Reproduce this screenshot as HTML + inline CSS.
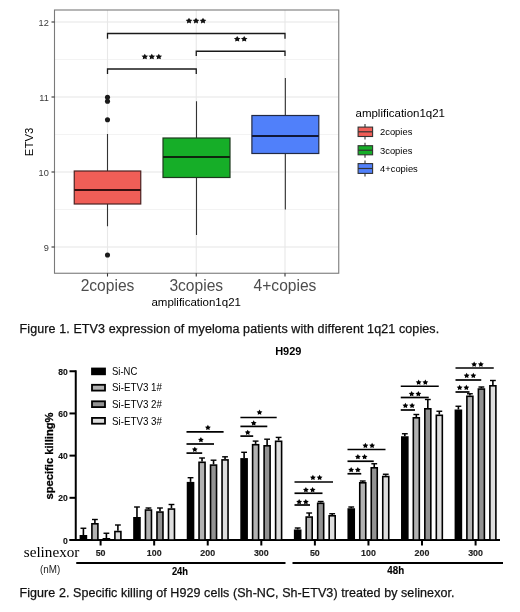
<!DOCTYPE html>
<html><head><meta charset="utf-8"><style>
html,body{margin:0;padding:0;background:#fff;}
svg{display:block;font-family:"Liberation Sans",sans-serif;will-change:transform;}
</style></head><body>
<svg width="520" height="612" viewBox="0 0 520 612">
<rect x="54.5" y="10" width="284.25" height="263.25" fill="#fff"/>
<line x1="54.5" x2="338.75" y1="59.5" y2="59.5" stroke="#f0f0f0" stroke-width="0.8"/>
<line x1="54.5" x2="338.75" y1="134.5" y2="134.5" stroke="#f0f0f0" stroke-width="0.8"/>
<line x1="54.5" x2="338.75" y1="209.5" y2="209.5" stroke="#f0f0f0" stroke-width="0.8"/>
<line x1="54.5" x2="338.75" y1="22" y2="22" stroke="#e6e6e6" stroke-width="1.1"/>
<line x1="54.5" x2="338.75" y1="97" y2="97" stroke="#e6e6e6" stroke-width="1.1"/>
<line x1="54.5" x2="338.75" y1="172" y2="172" stroke="#e6e6e6" stroke-width="1.1"/>
<line x1="54.5" x2="338.75" y1="247" y2="247" stroke="#e6e6e6" stroke-width="1.1"/>
<line x1="107.5" x2="107.5" y1="10" y2="273.25" stroke="#e8e8e8" stroke-width="1.1"/>
<line x1="196.25" x2="196.25" y1="10" y2="273.25" stroke="#e8e8e8" stroke-width="1.1"/>
<line x1="285" x2="285" y1="10" y2="273.25" stroke="#e8e8e8" stroke-width="1.1"/>
<rect x="54.5" y="10" width="284.25" height="263.25" fill="none" stroke="#7a7a7a" stroke-width="1.1"/>
<line x1="51.5" x2="54.5" y1="22" y2="22" stroke="#333" stroke-width="1.1"/>
<text x="48.8" y="25.8" text-anchor="end" font-size="9.2" fill="#3a3a3a">12</text>
<line x1="51.5" x2="54.5" y1="97" y2="97" stroke="#333" stroke-width="1.1"/>
<text x="48.8" y="100.8" text-anchor="end" font-size="9.2" fill="#3a3a3a">11</text>
<line x1="51.5" x2="54.5" y1="172" y2="172" stroke="#333" stroke-width="1.1"/>
<text x="48.8" y="175.8" text-anchor="end" font-size="9.2" fill="#3a3a3a">10</text>
<line x1="51.5" x2="54.5" y1="247" y2="247" stroke="#333" stroke-width="1.1"/>
<text x="48.8" y="250.8" text-anchor="end" font-size="9.2" fill="#3a3a3a">9</text>
<line x1="107.5" x2="107.5" y1="273.25" y2="276.55" stroke="#333" stroke-width="1.1"/>
<text x="107.5" y="290.6" text-anchor="middle" font-size="15.6" fill="#4d4d4d">2copies</text>
<line x1="196.25" x2="196.25" y1="273.25" y2="276.55" stroke="#333" stroke-width="1.1"/>
<text x="196.25" y="290.6" text-anchor="middle" font-size="15.6" fill="#4d4d4d">3copies</text>
<line x1="285" x2="285" y1="273.25" y2="276.55" stroke="#333" stroke-width="1.1"/>
<text x="285" y="290.6" text-anchor="middle" font-size="15.6" fill="#4d4d4d">4+copies</text>
<text x="196.2" y="305.5" text-anchor="middle" font-size="11.5" fill="#000">amplification1q21</text>
<text transform="translate(33.3,141.9) rotate(-90)" text-anchor="middle" font-size="11.4" fill="#000">ETV3</text>
<line x1="107.5" x2="107.5" y1="134" y2="171" stroke="#333" stroke-width="1.1"/>
<line x1="107.5" x2="107.5" y1="204" y2="226.25" stroke="#333" stroke-width="1.1"/>
<rect x="74.25" y="171" width="66.5" height="33" fill="#f05e57" stroke="#4a2222" stroke-width="1.2"/>
<line x1="74.25" x2="140.75" y1="190" y2="190" stroke="#3a1010" stroke-width="2.2"/>
<line x1="196.5" x2="196.5" y1="101.25" y2="138" stroke="#333" stroke-width="1.1"/>
<line x1="196.5" x2="196.5" y1="177.5" y2="235" stroke="#333" stroke-width="1.1"/>
<rect x="163" y="138" width="67" height="39.5" fill="#16ae28" stroke="#1e3a1e" stroke-width="1.2"/>
<line x1="163" x2="230" y1="157" y2="157" stroke="#0e260e" stroke-width="2.2"/>
<line x1="285.35" x2="285.35" y1="78" y2="115.5" stroke="#333" stroke-width="1.1"/>
<line x1="285.35" x2="285.35" y1="153.5" y2="209.6" stroke="#333" stroke-width="1.1"/>
<rect x="251.9" y="115.5" width="66.9" height="38.0" fill="#5080fa" stroke="#222a44" stroke-width="1.2"/>
<line x1="251.9" x2="318.8" y1="136" y2="136" stroke="#101838" stroke-width="2.2"/>
<circle cx="107.5" cy="97.3" r="2.55" fill="#1a1a1a"/>
<circle cx="107.5" cy="101.2" r="2.55" fill="#1a1a1a"/>
<circle cx="107.5" cy="119.8" r="2.55" fill="#1a1a1a"/>
<circle cx="107.5" cy="255" r="2.55" fill="#1a1a1a"/>
<polyline points="107.5,38.75 107.5,33.5 285,33.5 285,38.75" fill="none" stroke="#1a1a1a" stroke-width="1.3"/>
<polyline points="196.25,56 196.25,51.25 285,51.25 285,56" fill="none" stroke="#1a1a1a" stroke-width="1.3"/>
<polyline points="107.5,74 107.5,69 196.25,69 196.25,74" fill="none" stroke="#1a1a1a" stroke-width="1.3"/>
<g fill="#111"><polygon points="189.00,17.81 190.06,19.61 192.30,19.95 190.72,21.41 191.04,23.42 189.00,22.52 186.96,23.42 187.28,21.41 185.70,19.95 187.94,19.61"/><polygon points="196.00,17.81 197.06,19.61 199.30,19.95 197.72,21.41 198.04,23.42 196.00,22.52 193.96,23.42 194.28,21.41 192.70,19.95 194.94,19.61"/><polygon points="203.00,17.81 204.06,19.61 206.30,19.95 204.72,21.41 205.04,23.42 203.00,22.52 200.96,23.42 201.28,21.41 199.70,19.95 201.94,19.61"/><polygon points="237.20,36.01 238.26,37.81 240.50,38.15 238.92,39.61 239.24,41.62 237.20,40.72 235.16,41.62 235.48,39.61 233.90,38.15 236.14,37.81"/><polygon points="244.20,36.01 245.26,37.81 247.50,38.15 245.92,39.61 246.24,41.62 244.20,40.72 242.16,41.62 242.48,39.61 240.90,38.15 243.14,37.81"/><polygon points="144.80,53.71 145.86,55.51 148.10,55.85 146.52,57.31 146.84,59.32 144.80,58.42 142.76,59.32 143.08,57.31 141.50,55.85 143.74,55.51"/><polygon points="151.80,53.71 152.86,55.51 155.10,55.85 153.52,57.31 153.84,59.32 151.80,58.42 149.76,59.32 150.08,57.31 148.50,55.85 150.74,55.51"/><polygon points="158.80,53.71 159.86,55.51 162.10,55.85 160.52,57.31 160.84,59.32 158.80,58.42 156.76,59.32 157.08,57.31 155.50,55.85 157.74,55.51"/></g>
<text x="355.5" y="117" font-size="11.5" fill="#000">amplification1q21</text>
<line x1="365" x2="365" y1="124.1" y2="139.5" stroke="#333" stroke-width="1.1"/>
<rect x="358.1" y="127.1" width="14.5" height="9.400000000000006" fill="#f05e57" stroke="#333" stroke-width="1.1"/>
<line x1="358.1" x2="372.6" y1="131.8" y2="131.8" stroke="#333" stroke-width="1.2"/>
<text x="380" y="135.10000000000002" font-size="9.4" fill="#000">2copies</text>
<line x1="365" x2="365" y1="142.7" y2="157.8" stroke="#333" stroke-width="1.1"/>
<rect x="358.1" y="145.7" width="14.5" height="9.100000000000023" fill="#16ae28" stroke="#333" stroke-width="1.1"/>
<line x1="358.1" x2="372.6" y1="150.25" y2="150.25" stroke="#333" stroke-width="1.2"/>
<text x="380" y="153.55" font-size="9.4" fill="#000">3copies</text>
<line x1="365" x2="365" y1="160.6" y2="176.4" stroke="#333" stroke-width="1.1"/>
<rect x="358.1" y="163.6" width="14.5" height="9.800000000000011" fill="#5080fa" stroke="#333" stroke-width="1.1"/>
<line x1="358.1" x2="372.6" y1="168.5" y2="168.5" stroke="#333" stroke-width="1.2"/>
<text x="380" y="171.8" font-size="9.4" fill="#000">4+copies</text>
<text x="19.5" y="333.2" font-size="12.5" fill="#111" stroke="#111" stroke-width="0.25" textLength="419.7" lengthAdjust="spacing">Figure 1. ETV3 expression of myeloma patients with different 1q21 copies.</text>
<text x="288.3" y="354.9" text-anchor="middle" font-size="11" font-weight="bold" fill="#000">H929</text>
<line x1="75.75" x2="75.75" y1="370.3" y2="541" stroke="#000" stroke-width="2"/>
<line x1="69.5" x2="75.75" y1="540.00" y2="540.00" stroke="#000" stroke-width="2"/>
<text x="62.90" y="543.50" font-size="9.8" font-weight="bold" fill="#111" stroke="#111" stroke-width="0.15" textLength="4.8" lengthAdjust="spacingAndGlyphs">0</text>
<line x1="69.5" x2="75.75" y1="497.81" y2="497.81" stroke="#000" stroke-width="2"/>
<text x="58.20" y="501.31" font-size="9.8" font-weight="bold" fill="#111" stroke="#111" stroke-width="0.15" textLength="9.5" lengthAdjust="spacingAndGlyphs">20</text>
<line x1="69.5" x2="75.75" y1="455.62" y2="455.62" stroke="#000" stroke-width="2"/>
<text x="58.20" y="459.12" font-size="9.8" font-weight="bold" fill="#111" stroke="#111" stroke-width="0.15" textLength="9.5" lengthAdjust="spacingAndGlyphs">40</text>
<line x1="69.5" x2="75.75" y1="413.44" y2="413.44" stroke="#000" stroke-width="2"/>
<text x="58.20" y="416.94" font-size="9.8" font-weight="bold" fill="#111" stroke="#111" stroke-width="0.15" textLength="9.5" lengthAdjust="spacingAndGlyphs">60</text>
<line x1="69.5" x2="75.75" y1="371.25" y2="371.25" stroke="#000" stroke-width="2"/>
<text x="58.20" y="374.75" font-size="9.8" font-weight="bold" fill="#111" stroke="#111" stroke-width="0.15" textLength="9.5" lengthAdjust="spacingAndGlyphs">80</text>
<line x1="69.5" x2="500" y1="540" y2="540" stroke="#000" stroke-width="2"/>
<text transform="translate(53.3,456) rotate(-90)" text-anchor="middle" font-size="11.5" font-weight="bold" fill="#000" stroke="#000" stroke-width="0.3" textLength="87" lengthAdjust="spacingAndGlyphs">specific killing%</text>
<line x1="83.40" x2="83.40" y1="528.25" y2="535.00" stroke="#000" stroke-width="1.6"/>
<line x1="80.50" x2="86.30" y1="528.25" y2="528.25" stroke="#000" stroke-width="1.4"/>
<rect x="80.40" y="535.80" width="6.00" height="4.20" fill="#000" stroke="#000" stroke-width="1.6"/>
<line x1="94.90" x2="94.90" y1="519.50" y2="523.00" stroke="#000" stroke-width="1.6"/>
<line x1="92.00" x2="97.80" y1="519.50" y2="519.50" stroke="#000" stroke-width="1.4"/>
<rect x="91.90" y="523.80" width="6.00" height="16.20" fill="#b2b2b2" stroke="#000" stroke-width="1.6"/>
<line x1="106.40" x2="106.40" y1="533.25" y2="538.00" stroke="#000" stroke-width="1.6"/>
<line x1="103.50" x2="109.30" y1="533.25" y2="533.25" stroke="#000" stroke-width="1.4"/>
<rect x="103.40" y="538.80" width="6.00" height="1.20" fill="#929292" stroke="#000" stroke-width="1.6"/>
<line x1="117.90" x2="117.90" y1="525.00" y2="530.75" stroke="#000" stroke-width="1.6"/>
<line x1="115.00" x2="120.80" y1="525.00" y2="525.00" stroke="#000" stroke-width="1.4"/>
<rect x="114.90" y="531.55" width="6.00" height="8.45" fill="#dedede" stroke="#000" stroke-width="1.6"/>
<line x1="100.60" x2="100.60" y1="540" y2="545.5" stroke="#000" stroke-width="2"/>
<text x="95.65" y="556.3" font-size="9.5" font-weight="bold" fill="#222" stroke="#222" stroke-width="0.15" textLength="9.9" lengthAdjust="spacingAndGlyphs">50</text>
<line x1="136.97" x2="136.97" y1="507.00" y2="517.00" stroke="#000" stroke-width="1.6"/>
<line x1="134.07" x2="139.87" y1="507.00" y2="507.00" stroke="#000" stroke-width="1.4"/>
<rect x="133.97" y="517.80" width="6.00" height="22.20" fill="#000" stroke="#000" stroke-width="1.6"/>
<line x1="148.47" x2="148.47" y1="508.00" y2="509.25" stroke="#000" stroke-width="1.6"/>
<line x1="145.57" x2="151.37" y1="508.00" y2="508.00" stroke="#000" stroke-width="1.4"/>
<rect x="145.47" y="510.05" width="6.00" height="29.95" fill="#b2b2b2" stroke="#000" stroke-width="1.6"/>
<line x1="159.97" x2="159.97" y1="508.00" y2="511.25" stroke="#000" stroke-width="1.6"/>
<line x1="157.07" x2="162.87" y1="508.00" y2="508.00" stroke="#000" stroke-width="1.4"/>
<rect x="156.97" y="512.05" width="6.00" height="27.95" fill="#929292" stroke="#000" stroke-width="1.6"/>
<line x1="171.47" x2="171.47" y1="504.50" y2="508.25" stroke="#000" stroke-width="1.6"/>
<line x1="168.57" x2="174.37" y1="504.50" y2="504.50" stroke="#000" stroke-width="1.4"/>
<rect x="168.47" y="509.05" width="6.00" height="30.95" fill="#dedede" stroke="#000" stroke-width="1.6"/>
<line x1="154.17" x2="154.17" y1="540" y2="545.5" stroke="#000" stroke-width="2"/>
<text x="146.77" y="556.3" font-size="9.5" font-weight="bold" fill="#222" stroke="#222" stroke-width="0.15" textLength="14.8" lengthAdjust="spacingAndGlyphs">100</text>
<line x1="190.54" x2="190.54" y1="477.70" y2="481.90" stroke="#000" stroke-width="1.6"/>
<line x1="187.64" x2="193.44" y1="477.70" y2="477.70" stroke="#000" stroke-width="1.4"/>
<rect x="187.54" y="482.70" width="6.00" height="57.30" fill="#000" stroke="#000" stroke-width="1.6"/>
<line x1="202.04" x2="202.04" y1="458.00" y2="461.50" stroke="#000" stroke-width="1.6"/>
<line x1="199.14" x2="204.94" y1="458.00" y2="458.00" stroke="#000" stroke-width="1.4"/>
<rect x="199.04" y="462.30" width="6.00" height="77.70" fill="#b2b2b2" stroke="#000" stroke-width="1.6"/>
<line x1="213.54" x2="213.54" y1="460.20" y2="464.30" stroke="#000" stroke-width="1.6"/>
<line x1="210.64" x2="216.44" y1="460.20" y2="460.20" stroke="#000" stroke-width="1.4"/>
<rect x="210.54" y="465.10" width="6.00" height="74.90" fill="#929292" stroke="#000" stroke-width="1.6"/>
<line x1="225.04" x2="225.04" y1="456.80" y2="459.10" stroke="#000" stroke-width="1.6"/>
<line x1="222.14" x2="227.94" y1="456.80" y2="456.80" stroke="#000" stroke-width="1.4"/>
<rect x="222.04" y="459.90" width="6.00" height="80.10" fill="#dedede" stroke="#000" stroke-width="1.6"/>
<line x1="207.74" x2="207.74" y1="540" y2="545.5" stroke="#000" stroke-width="2"/>
<text x="200.34" y="556.3" font-size="9.5" font-weight="bold" fill="#222" stroke="#222" stroke-width="0.15" textLength="14.8" lengthAdjust="spacingAndGlyphs">200</text>
<line x1="244.11" x2="244.11" y1="452.30" y2="458.10" stroke="#000" stroke-width="1.6"/>
<line x1="241.21" x2="247.01" y1="452.30" y2="452.30" stroke="#000" stroke-width="1.4"/>
<rect x="241.11" y="458.90" width="6.00" height="81.10" fill="#000" stroke="#000" stroke-width="1.6"/>
<line x1="255.61" x2="255.61" y1="441.10" y2="443.90" stroke="#000" stroke-width="1.6"/>
<line x1="252.71" x2="258.51" y1="441.10" y2="441.10" stroke="#000" stroke-width="1.4"/>
<rect x="252.61" y="444.70" width="6.00" height="95.30" fill="#b2b2b2" stroke="#000" stroke-width="1.6"/>
<line x1="267.11" x2="267.11" y1="439.20" y2="445.00" stroke="#000" stroke-width="1.6"/>
<line x1="264.21" x2="270.01" y1="439.20" y2="439.20" stroke="#000" stroke-width="1.4"/>
<rect x="264.11" y="445.80" width="6.00" height="94.20" fill="#929292" stroke="#000" stroke-width="1.6"/>
<line x1="278.61" x2="278.61" y1="437.40" y2="440.50" stroke="#000" stroke-width="1.6"/>
<line x1="275.71" x2="281.51" y1="437.40" y2="437.40" stroke="#000" stroke-width="1.4"/>
<rect x="275.61" y="441.30" width="6.00" height="98.70" fill="#dedede" stroke="#000" stroke-width="1.6"/>
<line x1="261.31" x2="261.31" y1="540" y2="545.5" stroke="#000" stroke-width="2"/>
<text x="253.91" y="556.3" font-size="9.5" font-weight="bold" fill="#222" stroke="#222" stroke-width="0.15" textLength="14.8" lengthAdjust="spacingAndGlyphs">300</text>
<line x1="297.68" x2="297.68" y1="528.00" y2="529.50" stroke="#000" stroke-width="1.6"/>
<line x1="294.78" x2="300.58" y1="528.00" y2="528.00" stroke="#000" stroke-width="1.4"/>
<rect x="294.68" y="530.30" width="6.00" height="9.70" fill="#000" stroke="#000" stroke-width="1.6"/>
<line x1="309.18" x2="309.18" y1="513.00" y2="516.25" stroke="#000" stroke-width="1.6"/>
<line x1="306.28" x2="312.08" y1="513.00" y2="513.00" stroke="#000" stroke-width="1.4"/>
<rect x="306.18" y="517.05" width="6.00" height="22.95" fill="#b2b2b2" stroke="#000" stroke-width="1.6"/>
<line x1="320.68" x2="320.68" y1="501.50" y2="502.50" stroke="#000" stroke-width="1.6"/>
<line x1="317.78" x2="323.58" y1="501.50" y2="501.50" stroke="#000" stroke-width="1.4"/>
<rect x="317.68" y="503.30" width="6.00" height="36.70" fill="#929292" stroke="#000" stroke-width="1.6"/>
<line x1="332.18" x2="332.18" y1="513.75" y2="515.00" stroke="#000" stroke-width="1.6"/>
<line x1="329.28" x2="335.08" y1="513.75" y2="513.75" stroke="#000" stroke-width="1.4"/>
<rect x="329.18" y="515.80" width="6.00" height="24.20" fill="#dedede" stroke="#000" stroke-width="1.6"/>
<line x1="314.88" x2="314.88" y1="540" y2="545.5" stroke="#000" stroke-width="2"/>
<text x="309.93" y="556.3" font-size="9.5" font-weight="bold" fill="#222" stroke="#222" stroke-width="0.15" textLength="9.9" lengthAdjust="spacingAndGlyphs">50</text>
<line x1="351.25" x2="351.25" y1="507.00" y2="508.25" stroke="#000" stroke-width="1.6"/>
<line x1="348.35" x2="354.15" y1="507.00" y2="507.00" stroke="#000" stroke-width="1.4"/>
<rect x="348.25" y="509.05" width="6.00" height="30.95" fill="#000" stroke="#000" stroke-width="1.6"/>
<line x1="362.75" x2="362.75" y1="481.00" y2="482.00" stroke="#000" stroke-width="1.6"/>
<line x1="359.85" x2="365.65" y1="481.00" y2="481.00" stroke="#000" stroke-width="1.4"/>
<rect x="359.75" y="482.80" width="6.00" height="57.20" fill="#b2b2b2" stroke="#000" stroke-width="1.6"/>
<line x1="374.25" x2="374.25" y1="463.75" y2="467.00" stroke="#000" stroke-width="1.6"/>
<line x1="371.35" x2="377.15" y1="463.75" y2="463.75" stroke="#000" stroke-width="1.4"/>
<rect x="371.25" y="467.80" width="6.00" height="72.20" fill="#929292" stroke="#000" stroke-width="1.6"/>
<line x1="385.75" x2="385.75" y1="474.25" y2="475.75" stroke="#000" stroke-width="1.6"/>
<line x1="382.85" x2="388.65" y1="474.25" y2="474.25" stroke="#000" stroke-width="1.4"/>
<rect x="382.75" y="476.55" width="6.00" height="63.45" fill="#dedede" stroke="#000" stroke-width="1.6"/>
<line x1="368.45" x2="368.45" y1="540" y2="545.5" stroke="#000" stroke-width="2"/>
<text x="361.05" y="556.3" font-size="9.5" font-weight="bold" fill="#222" stroke="#222" stroke-width="0.15" textLength="14.8" lengthAdjust="spacingAndGlyphs">100</text>
<line x1="404.82" x2="404.82" y1="433.75" y2="436.25" stroke="#000" stroke-width="1.6"/>
<line x1="401.92" x2="407.72" y1="433.75" y2="433.75" stroke="#000" stroke-width="1.4"/>
<rect x="401.82" y="437.05" width="6.00" height="102.95" fill="#000" stroke="#000" stroke-width="1.6"/>
<line x1="416.32" x2="416.32" y1="414.50" y2="417.00" stroke="#000" stroke-width="1.6"/>
<line x1="413.42" x2="419.22" y1="414.50" y2="414.50" stroke="#000" stroke-width="1.4"/>
<rect x="413.32" y="417.80" width="6.00" height="122.20" fill="#b2b2b2" stroke="#000" stroke-width="1.6"/>
<line x1="427.82" x2="427.82" y1="399.50" y2="408.00" stroke="#000" stroke-width="1.6"/>
<line x1="424.92" x2="430.72" y1="399.50" y2="399.50" stroke="#000" stroke-width="1.4"/>
<rect x="424.82" y="408.80" width="6.00" height="131.20" fill="#929292" stroke="#000" stroke-width="1.6"/>
<line x1="439.32" x2="439.32" y1="411.25" y2="414.50" stroke="#000" stroke-width="1.6"/>
<line x1="436.42" x2="442.22" y1="411.25" y2="411.25" stroke="#000" stroke-width="1.4"/>
<rect x="436.32" y="415.30" width="6.00" height="124.70" fill="#dedede" stroke="#000" stroke-width="1.6"/>
<line x1="422.02" x2="422.02" y1="540" y2="545.5" stroke="#000" stroke-width="2"/>
<text x="414.62" y="556.3" font-size="9.5" font-weight="bold" fill="#222" stroke="#222" stroke-width="0.15" textLength="14.8" lengthAdjust="spacingAndGlyphs">200</text>
<line x1="458.39" x2="458.39" y1="406.25" y2="409.50" stroke="#000" stroke-width="1.6"/>
<line x1="455.49" x2="461.29" y1="406.25" y2="406.25" stroke="#000" stroke-width="1.4"/>
<rect x="455.39" y="410.30" width="6.00" height="129.70" fill="#000" stroke="#000" stroke-width="1.6"/>
<line x1="469.89" x2="469.89" y1="393.75" y2="395.50" stroke="#000" stroke-width="1.6"/>
<line x1="466.99" x2="472.79" y1="393.75" y2="393.75" stroke="#000" stroke-width="1.4"/>
<rect x="466.89" y="396.30" width="6.00" height="143.70" fill="#b2b2b2" stroke="#000" stroke-width="1.6"/>
<line x1="481.39" x2="481.39" y1="387.00" y2="388.25" stroke="#000" stroke-width="1.6"/>
<line x1="478.49" x2="484.29" y1="387.00" y2="387.00" stroke="#000" stroke-width="1.4"/>
<rect x="478.39" y="389.05" width="6.00" height="150.95" fill="#929292" stroke="#000" stroke-width="1.6"/>
<line x1="492.89" x2="492.89" y1="380.50" y2="385.00" stroke="#000" stroke-width="1.6"/>
<line x1="489.99" x2="495.79" y1="380.50" y2="380.50" stroke="#000" stroke-width="1.4"/>
<rect x="489.89" y="385.80" width="6.00" height="154.20" fill="#dedede" stroke="#000" stroke-width="1.6"/>
<line x1="475.59" x2="475.59" y1="540" y2="545.5" stroke="#000" stroke-width="2"/>
<text x="468.19" y="556.3" font-size="9.5" font-weight="bold" fill="#222" stroke="#222" stroke-width="0.15" textLength="14.8" lengthAdjust="spacingAndGlyphs">300</text>
<line x1="186.5" x2="202.2" y1="453.1" y2="453.1" stroke="#000" stroke-width="1.7"/>
<g fill="#000"><polygon points="194.80,446.69 195.73,448.37 197.70,448.69 196.31,450.06 196.59,451.94 194.80,451.10 193.01,451.94 193.29,450.06 191.90,448.69 193.87,448.37"/></g>
<line x1="186.5" x2="214" y1="444" y2="444" stroke="#000" stroke-width="1.7"/>
<g fill="#000"><polygon points="200.90,436.99 201.83,438.67 203.80,438.99 202.41,440.36 202.69,442.24 200.90,441.40 199.11,442.24 199.39,440.36 198.00,438.99 199.97,438.67"/></g>
<line x1="186.5" x2="223.6" y1="431.9" y2="431.9" stroke="#000" stroke-width="1.7"/>
<g fill="#000"><polygon points="207.90,424.79 208.83,426.47 210.80,426.79 209.41,428.16 209.69,430.04 207.90,429.20 206.11,430.04 206.39,428.16 205.00,426.79 206.97,426.47"/></g>
<line x1="240.4" x2="253.2" y1="436.1" y2="436.1" stroke="#000" stroke-width="1.7"/>
<g fill="#000"><polygon points="247.70,429.69 248.63,431.37 250.60,431.69 249.21,433.06 249.49,434.94 247.70,434.10 245.91,434.94 246.19,433.06 244.80,431.69 246.77,431.37"/></g>
<line x1="240.4" x2="267.3" y1="426.4" y2="426.4" stroke="#000" stroke-width="1.7"/>
<g fill="#000"><polygon points="253.70,420.29 254.63,421.97 256.60,422.29 255.21,423.66 255.49,425.54 253.70,424.70 251.91,425.54 252.19,423.66 250.80,422.29 252.77,421.97"/></g>
<line x1="240.4" x2="276.7" y1="417.5" y2="417.5" stroke="#000" stroke-width="1.7"/>
<g fill="#000"><polygon points="259.50,409.59 260.43,411.27 262.40,411.59 261.01,412.96 261.29,414.84 259.50,414.00 257.71,414.84 257.99,412.96 256.60,411.59 258.57,411.27"/></g>
<line x1="294.5" x2="310" y1="505" y2="505" stroke="#000" stroke-width="1.7"/>
<g fill="#000"><polygon points="299.15,499.04 300.08,500.72 302.05,501.04 300.66,502.41 300.94,504.29 299.15,503.45 297.36,504.29 297.64,502.41 296.25,501.04 298.22,500.72"/><polygon points="305.85,499.04 306.78,500.72 308.75,501.04 307.36,502.41 307.64,504.29 305.85,503.45 304.06,504.29 304.34,502.41 302.95,501.04 304.92,500.72"/></g>
<line x1="294.5" x2="322.5" y1="493.25" y2="493.25" stroke="#000" stroke-width="1.7"/>
<g fill="#000"><polygon points="305.90,487.04 306.83,488.72 308.80,489.04 307.41,490.41 307.69,492.29 305.90,491.45 304.11,492.29 304.39,490.41 303.00,489.04 304.97,488.72"/><polygon points="312.60,487.04 313.53,488.72 315.50,489.04 314.11,490.41 314.39,492.29 312.60,491.45 310.81,492.29 311.09,490.41 309.70,489.04 311.67,488.72"/></g>
<line x1="294.5" x2="333" y1="482" y2="482" stroke="#000" stroke-width="1.7"/>
<g fill="#000"><polygon points="312.90,474.79 313.83,476.47 315.80,476.79 314.41,478.16 314.69,480.04 312.90,479.20 311.11,480.04 311.39,478.16 310.00,476.79 311.97,476.47"/><polygon points="319.60,474.79 320.53,476.47 322.50,476.79 321.11,478.16 321.39,480.04 319.60,479.20 317.81,480.04 318.09,478.16 316.70,476.79 318.67,476.47"/></g>
<line x1="347.5" x2="361.25" y1="473.75" y2="473.75" stroke="#000" stroke-width="1.7"/>
<g fill="#000"><polygon points="351.15,467.04 352.08,468.72 354.05,469.04 352.66,470.41 352.94,472.29 351.15,471.45 349.36,472.29 349.64,470.41 348.25,469.04 350.22,468.72"/><polygon points="357.85,467.04 358.78,468.72 360.75,469.04 359.36,470.41 359.64,472.29 357.85,471.45 356.06,472.29 356.34,470.41 354.95,469.04 356.92,468.72"/></g>
<line x1="347.5" x2="373.75" y1="461.25" y2="461.25" stroke="#000" stroke-width="1.7"/>
<g fill="#000"><polygon points="357.90,454.04 358.83,455.72 360.80,456.04 359.41,457.41 359.69,459.29 357.90,458.45 356.11,459.29 356.39,457.41 355.00,456.04 356.97,455.72"/><polygon points="364.60,454.04 365.53,455.72 367.50,456.04 366.11,457.41 366.39,459.29 364.60,458.45 362.81,459.29 363.09,457.41 361.70,456.04 363.67,455.72"/></g>
<line x1="347.5" x2="385.5" y1="449.5" y2="449.5" stroke="#000" stroke-width="1.7"/>
<g fill="#000"><polygon points="365.40,442.79 366.33,444.47 368.30,444.79 366.91,446.16 367.19,448.04 365.40,447.20 363.61,448.04 363.89,446.16 362.50,444.79 364.47,444.47"/><polygon points="372.10,442.79 373.03,444.47 375.00,444.79 373.61,446.16 373.89,448.04 372.10,447.20 370.31,448.04 370.59,446.16 369.20,444.79 371.17,444.47"/></g>
<line x1="400.75" x2="415" y1="410" y2="410" stroke="#000" stroke-width="1.7"/>
<g fill="#000"><polygon points="405.40,402.79 406.33,404.47 408.30,404.79 406.91,406.16 407.19,408.04 405.40,407.20 403.61,408.04 403.89,406.16 402.50,404.79 404.47,404.47"/><polygon points="412.10,402.79 413.03,404.47 415.00,404.79 413.61,406.16 413.89,408.04 412.10,407.20 410.31,408.04 410.59,406.16 409.20,404.79 411.17,404.47"/></g>
<line x1="400.75" x2="428.75" y1="397.5" y2="397.5" stroke="#000" stroke-width="1.7"/>
<g fill="#000"><polygon points="411.65,391.04 412.58,392.72 414.55,393.04 413.16,394.41 413.44,396.29 411.65,395.45 409.86,396.29 410.14,394.41 408.75,393.04 410.72,392.72"/><polygon points="418.35,391.04 419.28,392.72 421.25,393.04 419.86,394.41 420.14,396.29 418.35,395.45 416.56,396.29 416.84,394.41 415.45,393.04 417.42,392.72"/></g>
<line x1="400.75" x2="438.75" y1="386.25" y2="386.25" stroke="#000" stroke-width="1.7"/>
<g fill="#000"><polygon points="418.65,379.54 419.58,381.22 421.55,381.54 420.16,382.91 420.44,384.79 418.65,383.95 416.86,384.79 417.14,382.91 415.75,381.54 417.72,381.22"/><polygon points="425.35,379.54 426.28,381.22 428.25,381.54 426.86,382.91 427.14,384.79 425.35,383.95 423.56,384.79 423.84,382.91 422.45,381.54 424.42,381.22"/></g>
<line x1="455.5" x2="469.5" y1="392" y2="392" stroke="#000" stroke-width="1.7"/>
<g fill="#000"><polygon points="459.65,384.79 460.58,386.47 462.55,386.79 461.16,388.16 461.44,390.04 459.65,389.20 457.86,390.04 458.14,388.16 456.75,386.79 458.72,386.47"/><polygon points="466.35,384.79 467.28,386.47 469.25,386.79 467.86,388.16 468.14,390.04 466.35,389.20 464.56,390.04 464.84,388.16 463.45,386.79 465.42,386.47"/></g>
<line x1="455.5" x2="481.25" y1="380" y2="380" stroke="#000" stroke-width="1.7"/>
<g fill="#000"><polygon points="466.65,372.79 467.58,374.47 469.55,374.79 468.16,376.16 468.44,378.04 466.65,377.20 464.86,378.04 465.14,376.16 463.75,374.79 465.72,374.47"/><polygon points="473.35,372.79 474.28,374.47 476.25,374.79 474.86,376.16 475.14,378.04 473.35,377.20 471.56,378.04 471.84,376.16 470.45,374.79 472.42,374.47"/></g>
<line x1="455.5" x2="493.75" y1="368" y2="368" stroke="#000" stroke-width="1.7"/>
<g fill="#000"><polygon points="474.15,361.54 475.08,363.22 477.05,363.54 475.66,364.91 475.94,366.79 474.15,365.95 472.36,366.79 472.64,364.91 471.25,363.54 473.22,363.22"/><polygon points="480.85,361.54 481.78,363.22 483.75,363.54 482.36,364.91 482.64,366.79 480.85,365.95 479.06,366.79 479.34,364.91 477.95,363.54 479.92,363.22"/></g>
<rect x="92" y="368.50" width="13" height="5.8" fill="#000" stroke="#000" stroke-width="1.8"/>
<text x="112" y="375.10" font-size="10.6" fill="#000" textLength="25.3" lengthAdjust="spacingAndGlyphs">Si-NC</text>
<rect x="92" y="384.80" width="13" height="5.8" fill="#b2b2b2" stroke="#000" stroke-width="1.8"/>
<text x="112" y="391.40" font-size="10.6" fill="#000" textLength="50" lengthAdjust="spacingAndGlyphs">Si-ETV3 1#</text>
<rect x="92" y="401.30" width="13" height="5.8" fill="#929292" stroke="#000" stroke-width="1.8"/>
<text x="112" y="407.90" font-size="10.6" fill="#000" textLength="50" lengthAdjust="spacingAndGlyphs">Si-ETV3 2#</text>
<rect x="92" y="417.90" width="13" height="5.8" fill="#dedede" stroke="#000" stroke-width="1.8"/>
<text x="112" y="424.50" font-size="10.6" fill="#000" textLength="50" lengthAdjust="spacingAndGlyphs">Si-ETV3 3#</text>
<text x="23.75" y="557" font-family="Liberation Serif" font-size="15.2" fill="#000">selinexor</text>
<text x="40" y="573" font-size="11.2" fill="#222" textLength="20.2" lengthAdjust="spacingAndGlyphs">(nM)</text>
<line x1="76.25" x2="285.5" y1="563" y2="563" stroke="#000" stroke-width="2.2"/>
<line x1="292.5" x2="503" y1="563" y2="563" stroke="#000" stroke-width="2.2"/>
<text x="171.9" y="574.6" font-size="10.2" font-weight="bold" fill="#000" stroke="#000" stroke-width="0.12" textLength="16.1" lengthAdjust="spacingAndGlyphs">24h</text>
<text x="387.3" y="573.9" font-size="10.2" font-weight="bold" fill="#000" stroke="#000" stroke-width="0.12" textLength="16.8" lengthAdjust="spacingAndGlyphs">48h</text>
<text x="19.5" y="597" font-size="12.5" fill="#111" stroke="#111" stroke-width="0.25" textLength="435" lengthAdjust="spacing">Figure 2. Specific killing of H929 cells (Sh-NC, Sh-ETV3) treated by selinexor.</text>
</svg>
</body></html>
